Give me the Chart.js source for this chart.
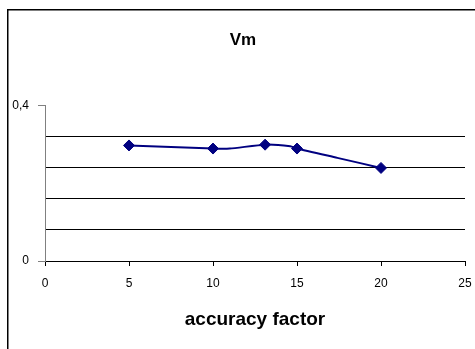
<!DOCTYPE html>
<html>
<head>
<meta charset="utf-8">
<script src="https://cdn.jsdelivr.net/npm/chart.js@4/dist/chart.umd.min.js"></script>
<style>
  html, body { margin: 0; padding: 0; background: #fff; }
  #wrap { width: 475px; height: 349px; }
</style>
</head>
<body>
<div id="wrap"><canvas id="c" width="475" height="349"></canvas></div>
<script>
// ---- data ----
const chartTitle = "Vm";
const xAxisTitle = "accuracy factor";
const xValues = [5, 10, 11, 13.1, 14.6, 15, 17.4, 20];
const vmValues = [0.298, 0.290, 0.290, 0.300, 0.296, 0.290, 0.266, 0.240];
const hasMarker = [true, true, false, true, false, true, false, true];
const xTickValues = [0, 5, 10, 15, 20, 25];
const yTickLabels = { "0": "0", "0.4": "0,4" };

const FONT = "'Liberation Sans', Arial, sans-serif";
const NAVY = "#000080";

const points = xValues.map((x, i) => ({ x: x, y: vmValues[i] }));

const frame = {
  id: 'frame',
  afterLayout(chart) {
    if (chart.titleBlock) { chart.titleBlock.left = 20; chart.titleBlock.right = 466; }
  },
  afterDraw(chart) {
    const ctx = chart.ctx;
    ctx.save();
    ctx.strokeStyle = '#000';
    ctx.lineWidth = 1.5;
    ctx.strokeRect(7.75, 9.75, 600, 600);
    ctx.restore();
  }
};

function near(a, b) { return Math.abs(a - b) < 1e-6; }

new Chart(document.getElementById('c'), {
  type: 'line',
  data: {
    datasets: [{
      data: points,
      borderColor: NAVY,
      backgroundColor: NAVY,
      borderWidth: 2,
      tension: 0.2,
      pointStyle: 'rectRot',
      pointRadius: ctx => hasMarker[ctx.dataIndex] ? 5.5 : 0,
      pointHoverRadius: ctx => hasMarker[ctx.dataIndex] ? 5.5 : 0,
      pointBorderWidth: 1,
      fill: false
    }]
  },
  options: {
    responsive: false,
    animation: false,
    events: [],
    layout: { padding: { left: 0, right: 10, top: 0, bottom: 0 } },
    plugins: {
      legend: { display: false },
      tooltip: { enabled: false },
      title: {
        display: true,
        text: chartTitle,
        color: '#000',
        font: { family: FONT, size: 17, weight: 'bold' },
        padding: { top: 30.5, bottom: 55 }
      }
    },
    scales: {
      x: {
        type: 'linear',
        min: 0, max: 25,
        afterFit: s => { s.height = 88; s.paddingLeft = 0; s.paddingRight = 0; },
        afterBuildTicks: s => { s.ticks = xTickValues.map(v => ({ value: v })); },
        ticks: {
          color: '#000',
          font: { family: FONT, size: 12 },
          padding: 10,
          maxRotation: 0,
          autoSkip: false
        },
        grid: {
          drawOnChartArea: false,
          drawTicks: true,
          tickLength: 5,
          tickColor: '#000'
        },
        border: { color: '#000', width: 1 },
        title: {
          display: true,
          text: xAxisTitle,
          color: '#000',
          font: { family: FONT, size: 19, weight: 'bold' },
          padding: { top: 0, bottom: 17.5 }
        }
      },
      y: {
        type: 'linear',
        min: 0, max: 0.4,
        afterFit: s => { s.width = 45; s.paddingTop = 0; s.paddingBottom = 0; },
        ticks: {
          stepSize: 0.08,
          color: '#000',
          font: { family: FONT, size: 12 },
          padding: 9,
          autoSkip: false,
          callback: v => {
            if (near(v, 0)) return yTickLabels["0"];
            if (near(v, 0.4)) return yTickLabels["0.4"];
            return '';
          }
        },
        grid: {
          drawTicks: true,
          tickLength: 7,
          color: ctx => (ctx.tick && (near(ctx.tick.value, 0) || near(ctx.tick.value, 0.4))) ? 'rgba(0,0,0,0)' : '#000',
          tickColor: ctx => (ctx.tick && (near(ctx.tick.value, 0) || near(ctx.tick.value, 0.4))) ? '#808080' : 'rgba(0,0,0,0)'
        },
        border: { color: '#808080', width: 1 }
      }
    }
  },
  plugins: [frame]
});
</script>
</body>
</html>
